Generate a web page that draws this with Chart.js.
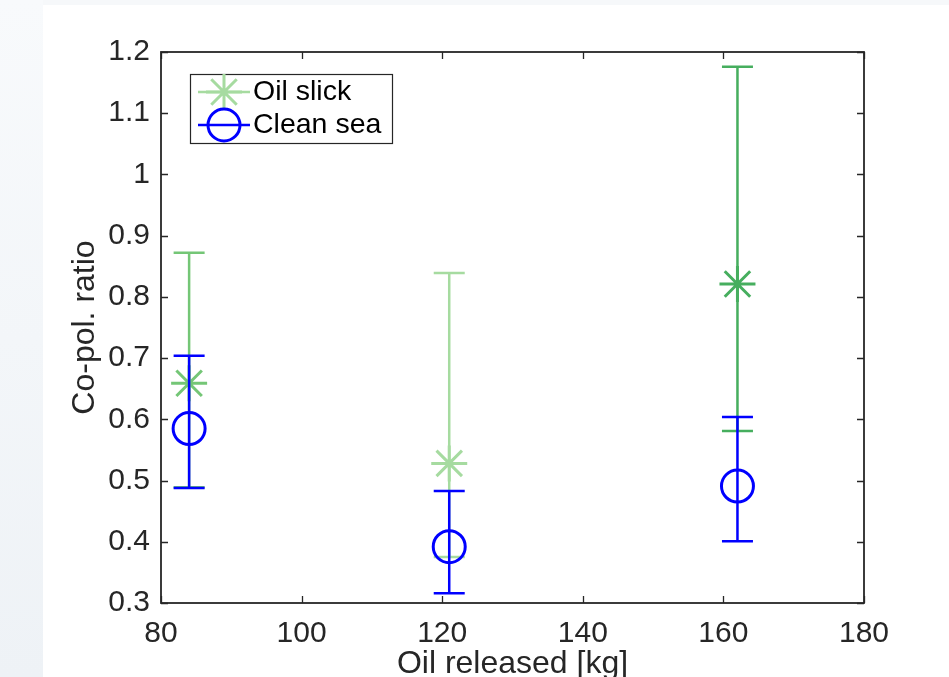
<!DOCTYPE html>
<html><head><meta charset="utf-8">
<script src="https://cdn.jsdelivr.net/npm/chart.js@4/dist/chart.umd.min.js"></script>
<style>html,body{margin:0;padding:0;background:#fff;}canvas{display:block;}</style>
</head><body>
<canvas id="c" width="949" height="677"></canvas>
<script>
// ---- data ----
const oilReleased = [84, 121, 162];
const oilSlickMean = [0.659, 0.528, 0.821];
const oilSlickLow = [0.489, 0.375, 0.581];
const oilSlickHigh = [0.872, 0.839, 1.176];
const oilSlickColors = ['#74c676', '#a6dba0', '#46ae5e'];
const cleanSeaMean = [0.585, 0.392, 0.491];
const cleanSeaLow = [0.488, 0.316, 0.401];
const cleanSeaHigh = [0.704, 0.483, 0.604];
const seriesLabels = ['Oil slick', 'Clean sea'];
const xTicks = [80, 100, 120, 140, 160, 180];
const yTicks = [0.3, 0.4, 0.5, 0.6, 0.7, 0.8, 0.9, 1.0, 1.1, 1.2];
const yTickLabels = ['0.3', '0.4', '0.5', '0.6', '0.7', '0.8', '0.9', '1', '1.1', '1.2'];
const xTitle = 'Oil released [kg]';
const yTitle = 'Co-pol. ratio';

const AXIS = '#262626';
const FONT = '"Liberation Sans", Arial, Helvetica, sans-serif';

function pts(mean, low, high) {
  return oilReleased.map((x, i) => ({x: x, y: mean[i], low: low[i], high: high[i]}));
}

function drawMarker(ctx, style, x, y, r) {
  ctx.beginPath();
  if (style === 'circle') {
    ctx.arc(x, y, r, 0, Math.PI * 2);
  } else {
    const d = r * Math.SQRT1_2;
    ctx.moveTo(x - r, y); ctx.lineTo(x + r, y);
    ctx.moveTo(x, y - r); ctx.lineTo(x, y + r);
    ctx.moveTo(x - d, y - d); ctx.lineTo(x + d, y + d);
    ctx.moveTo(x - d, y + d); ctx.lineTo(x + d, y - d);
  }
  ctx.stroke();
}

const bgPlugin = {
  id: 'bg',
  beforeDraw(chart) {
    const ctx = chart.ctx;
    ctx.save();
    ctx.fillStyle = '#ffffff';
    ctx.fillRect(0, 0, chart.width, chart.height);
    const g = ctx.createLinearGradient(0, 0, 0, chart.height);
    g.addColorStop(0, '#f8fafc');
    g.addColorStop(1, '#eef2f6');
    ctx.fillStyle = g;
    ctx.fillRect(0, 0, 43, chart.height);
    ctx.fillStyle = '#f6f8fa';
    ctx.fillRect(43, 0, chart.width - 43, 5);
    ctx.restore();
  }
};

const errorBarPlugin = {
  id: 'errorBars',
  beforeDatasetDraw(chart, args) {
    const ds = chart.data.datasets[args.index];
    const xs = chart.scales.x, ys = chart.scales.y;
    const ctx = chart.ctx;
    ctx.save();
    ctx.lineWidth = 2.5;
    ctx.lineCap = 'butt';
    ds.data.forEach((p, i) => {
      const px = xs.getPixelForValue(p.x);
      const lo = ys.getPixelForValue(p.low);
      const hi = ys.getPixelForValue(p.high);
      ctx.strokeStyle = Array.isArray(ds.borderColor) ? ds.borderColor[i] : ds.borderColor;
      ctx.beginPath();
      ctx.moveTo(px, lo); ctx.lineTo(px, hi);
      ctx.moveTo(px - 15.5, lo); ctx.lineTo(px + 15.5, lo);
      ctx.moveTo(px - 15.5, hi); ctx.lineTo(px + 15.5, hi);
      ctx.stroke();
    });
    ctx.restore();
  }
};

const boxPlugin = {
  id: 'box',
  afterDatasetsDraw(chart) {
    const {left, right, top, bottom} = chart.chartArea;
    const ctx = chart.ctx;
    const xs = chart.scales.x, ys = chart.scales.y;
    ctx.save();
    ctx.strokeStyle = AXIS;
    ctx.lineWidth = 1.8;
    ctx.strokeRect(left, top, right - left, bottom - top);
    ctx.lineWidth = 1.3;
    ctx.beginPath();
    const tl = 7;
    xs.ticks.forEach(t => {
      const px = Math.round(xs.getPixelForValue(t.value)) + 0.5;
      ctx.moveTo(px, bottom); ctx.lineTo(px, bottom - tl);
      ctx.moveTo(px, top); ctx.lineTo(px, top + tl);
    });
    ys.ticks.forEach(t => {
      const py = Math.round(ys.getPixelForValue(t.value)) + 0.5;
      ctx.moveTo(left, py); ctx.lineTo(left + tl, py);
      ctx.moveTo(right, py); ctx.lineTo(right - tl, py);
    });
    ctx.stroke();
    ctx.restore();
  }
};

const legendPlugin = {
  id: 'customLegend',
  afterDraw(chart) {
    const ctx = chart.ctx;
    ctx.save();
    const bx = 190.5, by = 74.5, bw = 202, bh = 69;
    ctx.fillStyle = '#fff';
    ctx.fillRect(bx, by, bw, bh);
    ctx.strokeStyle = AXIS;
    ctx.lineWidth = 1.2;
    ctx.strokeRect(bx, by, bw, bh);
    const rows = [92, 125];
    const styles = ['star', 'circle'];
    const colors = [oilSlickColors[1], '#0000ff'];
    const radii = [18, 16];
    rows.forEach((ry, i) => {
      ctx.strokeStyle = colors[i];
      ctx.lineWidth = 2.5;
      ctx.beginPath();
      ctx.moveTo(198, ry); ctx.lineTo(250, ry);
      ctx.stroke();
      ctx.lineWidth = 3;
      drawMarker(ctx, styles[i], 224, ry, radii[i]);
      ctx.fillStyle = '#000';
      ctx.font = '28.5px ' + FONT;
      ctx.textBaseline = 'middle';
      ctx.textAlign = 'left';
      ctx.fillText(seriesLabels[i], 253, ry);
    });
    ctx.restore();
  }
};

new Chart(document.getElementById('c'), {
  type: 'scatter',
  data: {
    datasets: [
      {
        label: seriesLabels[0],
        data: pts(oilSlickMean, oilSlickLow, oilSlickHigh),
        borderColor: oilSlickColors,
        backgroundColor: 'rgba(0,0,0,0)',
        pointStyle: 'star',
        pointRadius: 18,
        pointBorderWidth: 3,
        borderWidth: 3,
        order: 2
      },
      {
        label: seriesLabels[1],
        data: pts(cleanSeaMean, cleanSeaLow, cleanSeaHigh),
        borderColor: '#0000ff',
        backgroundColor: 'rgba(0,0,0,0)',
        pointStyle: 'circle',
        pointRadius: 16,
        pointBorderWidth: 3,
        borderWidth: 3,
        order: 1
      }
    ]
  },
  options: {
    responsive: false,
    animation: false,
    events: [],
    layout: {padding: {left: 0, top: 52, right: 85, bottom: 0}},
    plugins: {legend: {display: false}, tooltip: {enabled: false}},
    scales: {
      x: {
        type: 'linear',
        min: 80, max: 180,
        afterBuildTicks: s => { s.ticks = xTicks.map(v => ({value: v})); },
        afterFit: s => { s.height = 74; },
        grid: {display: false, drawTicks: false},
        border: {display: false},
        ticks: {color: AXIS, font: {family: FONT, size: 30}, padding: 13, maxRotation: 0,
                callback: v => String(v)},
        title: {display: true, text: xTitle, color: AXIS, font: {family: FONT, size: 32, lineHeight: 1},
                padding: {top: 0, bottom: -3}}
      },
      y: {
        type: 'linear',
        min: 0.3, max: 1.2,
        afterBuildTicks: s => { s.ticks = yTicks.map(v => ({value: v})); },
        afterFit: s => { s.width = 161; },
        grid: {display: false, drawTicks: false},
        border: {display: false},
        ticks: {color: AXIS, font: {family: FONT, size: 30}, padding: 11,
                callback: (v) => { const i = yTicks.findIndex(t => Math.abs(t - v) < 1e-9); return i >= 0 ? yTickLabels[i] : ''; }},
        title: {display: true, text: yTitle, color: AXIS, font: {family: FONT, size: 32, lineHeight: 1},
                padding: {top: 69, bottom: 0}}
      }
    }
  },
  plugins: [bgPlugin, errorBarPlugin, boxPlugin, legendPlugin]
});
</script>
</body></html>
